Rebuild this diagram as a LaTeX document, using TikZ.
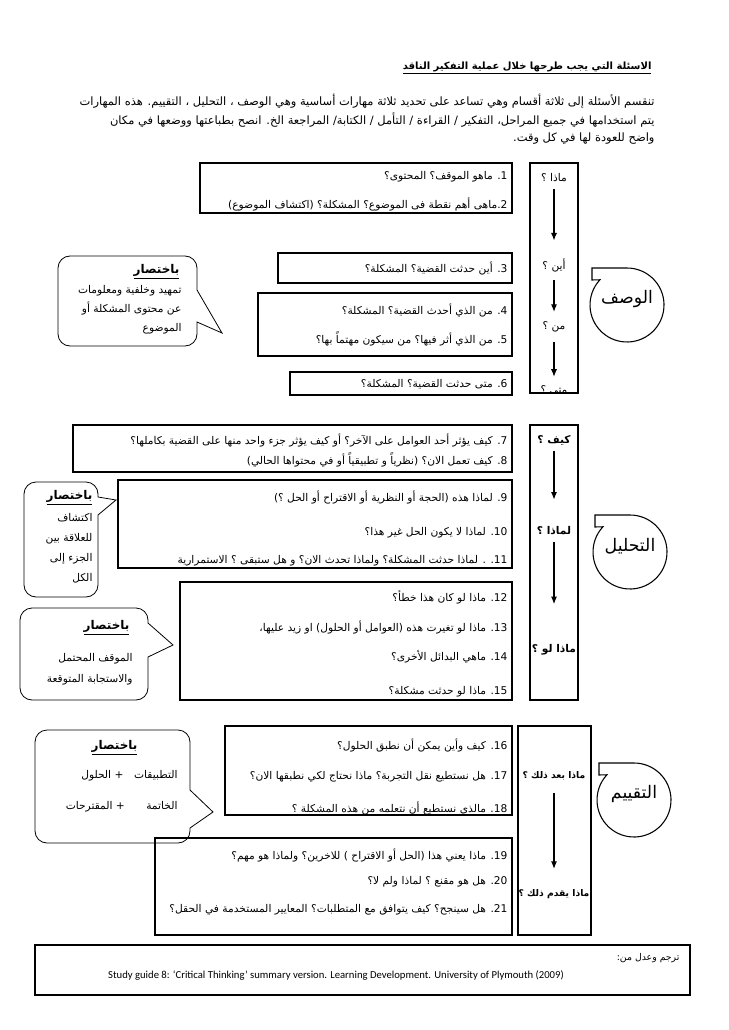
\documentclass[tikz,border=0pt]{standalone}
\usepackage{fontspec}
\setmainfont{Carlito}
\newfontfamily\arabicfont[Script=Arabic]{DejaVu Sans}
\TeXXeTstate=1
\usetikzlibrary{arrows.meta,calc}
\newcommand{\ar}[1]{{\arabicfont\beginR #1\endR}}
\newcommand{\qn}[1]{\beginL#1\endL.}

\begin{document}
\begin{tikzpicture}[x=0.75pt,y=-0.75pt,line width=0.8pt,>={Latex[length=2mm,width=1.6mm]},
  preg/.style={anchor=east,inner sep=0pt,font=\fontsize{8}{10}\selectfont},
  etiq/.style={inner sep=0pt,font=\fontsize{8}{10}\selectfont},
  netiq/.style={inner sep=0pt,font=\fontsize{8}{10}\selectfont\bfseries},
  resumen/.style={inner sep=0pt,anchor=east,font=\fontsize{9}{11}\selectfont\bfseries},
  nota/.style={inner sep=0pt,anchor=north east,align=right},
  globo/.style={line width=0.6pt,rounded corners=9pt}]
  \useasboundingbox (0,0) rectangle (728,1030);
  % encabezado
  \node[anchor=east,inner sep=0pt,font=\fontsize{7.5}{9}\selectfont\bfseries] (titulo) at (652,68) {\underline{\ar{الاسئلة التي يجب طرحها خلال عملية التفكير الناقد}}};
  \node[preg,font=\fontsize{8.6}{10}\selectfont] (p1) at (655,101) {\ar{تنقسم الأسئلة إلى ثلاثة أقسام وهي تساعد على تحديد ثلاثة مهارات أساسية وهي الوصف ، التحليل ، التقييم. هذه المهارات}};
  \node[preg,font=\fontsize{8.6}{10}\selectfont] (p2) at (655,120) {\ar{يتم استخدامها في جميع المراحل، التفكير / القراءة / التأمل / الكتابة/ المراجعة الخ. انصح بطباعتها ووضعها في مكان}};
  \node[preg,font=\fontsize{8.6}{10}\selectfont] (p3) at (655,139) {\ar{واضح للعودة لها في كل وقت.}};

  % el vertical de cada parte
  \draw (530,163) rectangle (578,393);
  \draw (530,425) rectangle (578,700);
  \draw (518,726) rectangle (591,935);

  % cajas de preguntas
  \draw (200,163) rectangle (512,213);
  \draw (278,253) rectangle (512,283);
  \draw (258,293) rectangle (512,356);
  \draw (290,372) rectangle (512,395);
  \draw (73,425) rectangle (512,472);
  \draw (118,480) rectangle (512,568);
  \draw (180,582) rectangle (512,700);
  \draw (225,726) rectangle (512,815);
  \draw (155,838) rectangle (512,935);

  % preguntas (descripcion)
  \node[preg] (q1) at (508,177) {\ar{\qn{1} ماهو الموقف؟ المحتوى؟}};
  \node[preg] (q2) at (508,204) {\ar{\qn{2}ماهى أهم نقطة فى الموضوع؟ المشكلة؟ (اكتشاف الموضوع)}};
  \node[preg] (q3) at (508,268) {\ar{\qn{3} أين حدثت القضية؟ المشكلة؟}};
  \node[preg] (q4) at (508,310) {\ar{\qn{4} من الذي أحدث القضية؟ المشكلة؟}};
  \node[preg] (q5) at (508,339) {\ar{\qn{5} من الذي أثر فيها؟ من سيكون مهتماً بها؟}};
  \node[preg] (q6) at (508,384) {\ar{\qn{6} متى حدثت القضية؟ المشكلة؟}};
  % preguntas (analisis)
  \node[preg] (q7) at (508,440) {\ar{\qn{7} كيف يؤثر أحد العوامل على الآخر؟ أو كيف يؤثر جزء واحد منها على القضية بكاملها؟}};
  \node[preg] (q8) at (508,460) {\ar{\qn{8} كيف تعمل الان؟ (نظرياً و تطبيقياً أو في محتواها الحالي)}};
  \node[preg] (q9) at (508,497) {\ar{\qn{9} لماذا هذه (الحجة أو النظرية أو الاقتراح أو الحل ؟)}};
  \node[preg] (q10) at (508,533) {\ar{\qn{10} لماذا لا يكون الحل غير هذا؟}};
  \node[preg] (q11) at (508,561) {\ar{\qn{11} . لماذا حدثت المشكلة؟ ولماذا تحدث الان؟ و هل ستبقى ؟ الاستمرارية}};
  \node[preg] (q12) at (508,597) {\ar{\qn{12} ماذا لو كان هذا خطأ؟}};
  \node[preg] (q13) at (508,627) {\ar{\qn{13} ماذا لو تغيرت هذه (العوامل أو الحلول) او زيد عليها،}};
  \node[preg] (q14) at (508,657) {\ar{\qn{14} ماهي البدائل الأخرى؟}};
  \begin{scope}
    \clip (180,582) rectangle (512,700);
    \node[preg] (q15) at (508,692) {\ar{\qn{15} ماذا لو حدثت مشكلة؟}};
  \end{scope}
  % preguntas (evaluacion)
  \node[preg] (q16) at (508,745) {\ar{\qn{16} كيف وأين يمكن أن نطبق الحلول؟}};
  \node[preg] (q17) at (508,777) {\ar{\qn{17} هل نستطيع نقل التجربة؟ ماذا نحتاج لكي نطبقها الان؟}};
  \node[preg] (q18) at (508,808) {\ar{\qn{18} مالذي نستطيع أن نتعلمه من هذه المشكلة ؟}};
  \node[preg] (q19) at (508,855) {\ar{\qn{19} ماذا يعني هذا (الحل أو الاقتراح ) للاخرين؟ ولماذا هو مهم؟}};
  \node[preg] (q20) at (508,882) {\ar{\qn{20} هل هو مقنع ؟ لماذا ولم لا؟}};
  \node[preg] (q21) at (508,910) {\ar{\qn{21} هل سينجح؟ كيف يتوافق مع المتطلبات؟ المعايير المستخدمة في الحقل؟}};

  % palabras de las columnas y flechas
  \node[etiq] (la1) at (554,178) {\ar{ماذا ؟}};
  \node[etiq] (la2) at (554,265) {\ar{أين ؟}};
  \node[etiq] (la3) at (554,327) {\ar{من ؟}};
  \begin{scope}
    \clip (530,163) rectangle (578,393);
    \node[etiq] (la4) at (554,390) {\ar{متى ؟}};
  \end{scope}
  \draw[->,shorten <=5pt,shorten >=13pt] (la1) -- (la2);
  \draw[->,shorten <=6pt,shorten >=7pt] (la2) -- (la3);
  \draw[->,shorten <=7pt,shorten >=6pt] (la3) -- (la4);
  \node[netiq] (lb1) at (554,440) {\ar{كيف ؟}};
  \node[netiq] (lb2) at (554,531) {\ar{لماذا ؟}};
  \node[netiq] (lb3) at (554,650) {\ar{ماذا لو ؟}};
  \draw[->,shorten <=4pt,shorten >=20pt] (lb1) -- (lb2);
  \draw[->,shorten <=5pt,shorten >=30pt] (lb2) -- (lb3);
  \node[netiq,font=\fontsize{6.9}{8}\selectfont\bfseries] (lc1) at (554,776) {\ar{ماذا بعد ذلك ؟}};
  \node[netiq,font=\fontsize{6.9}{8}\selectfont\bfseries] (lc2) at (554,894) {\ar{ماذا يقدم ذلك ؟}};
  \draw[->,shorten <=9pt,shorten >=15pt] (lc1) -- (lc2);

  % globos redondos con pestana
  \foreach \cx/\cy/\nm/\t in {627/305/wasf/الوصف,630/552/tahlil/التحليل,634/800/taqyim/التقييم}{
    \draw ($(\cx,\cy)+(90:27.75pt)$) -- ++(-26.25pt,0) -- ++(0,-9pt) -- ($(\cx,\cy)+(137:27.75pt)$) arc[start angle=137,end angle=450,radius=27.75pt];
    \node[inner sep=0pt,font=\fontsize{13}{15}\selectfont] (\nm) at (\cx,\cy-6) {\ar{\t}};
  }

  % globos "باختصار"
  \draw[globo] (197,290) -- (197,256) -- (58,256) -- (58,346) -- (197,346) [sharp corners] -- (197,322) -- (222,333) -- cycle;
  \node[resumen] (r1) at (180,272) {\underline{\ar{باختصار}}};
  \node[nota,font=\fontsize{8}{14.25}\selectfont] (n1) at (182,285) {\ar{تمهيد وخلفية ومعلومات}\\\ar{عن محتوى المشكلة أو}\\\ar{الموضوع}};

  \draw[globo] (98,515) -- (98,597) -- (24,597) -- (24,482) -- (98,482) [sharp corners] -- (98,497) -- (116,500) -- cycle;
  \node[resumen] (r2) at (93,498) {\underline{\ar{باختصار}}};
  \node[nota,font=\fontsize{8}{15}\selectfont] (n2) at (93,513) {\ar{اكتشاف}\\\ar{للعلاقة بين}\\\ar{الجزء إلى}\\\ar{الكل}};

  \draw[globo] (148,657) -- (148,700) -- (20,700) -- (20,608) -- (148,608) [sharp corners] -- (148,623) -- (173,645) -- cycle;
  \node[resumen] (r3) at (130,628) {\underline{\ar{باختصار}}};
  \node[nota,font=\fontsize{8}{15.75}\selectfont] (n3) at (133,653) {\ar{الموقف المحتمل}\\\ar{والاستجابة المتوقعة}};

  \draw[globo] (190,790) -- (190,730) -- (35,730) -- (35,843) -- (190,843) [sharp corners] -- (190,828) -- (213,812) -- cycle;
  \node[resumen] (r4) at (138,748) {\underline{\ar{باختصار}}};
  \node[nota,font=\fontsize{8}{23.25}\selectfont] (n4) at (178,770) {\ar{التطبيقات\quad + الحلول}\\\ar{الخاتمة\qquad + المقترحات}};

  % fuente
  \draw (35,945) rectangle (690,995);
  \node[anchor=east,inner sep=0pt,font=\fontsize{7}{9}\selectfont] (trad) at (680,958) {\ar{ترجم وعدل من:}};
  \node[inner sep=0pt,font=\fontsize{8}{10}\selectfont] (fuente) at (336,976) {Study guide 8: ‘Critical Thinking’ summary version. Learning Development. University of Plymouth (2009)};
\end{tikzpicture}
\end{document}
